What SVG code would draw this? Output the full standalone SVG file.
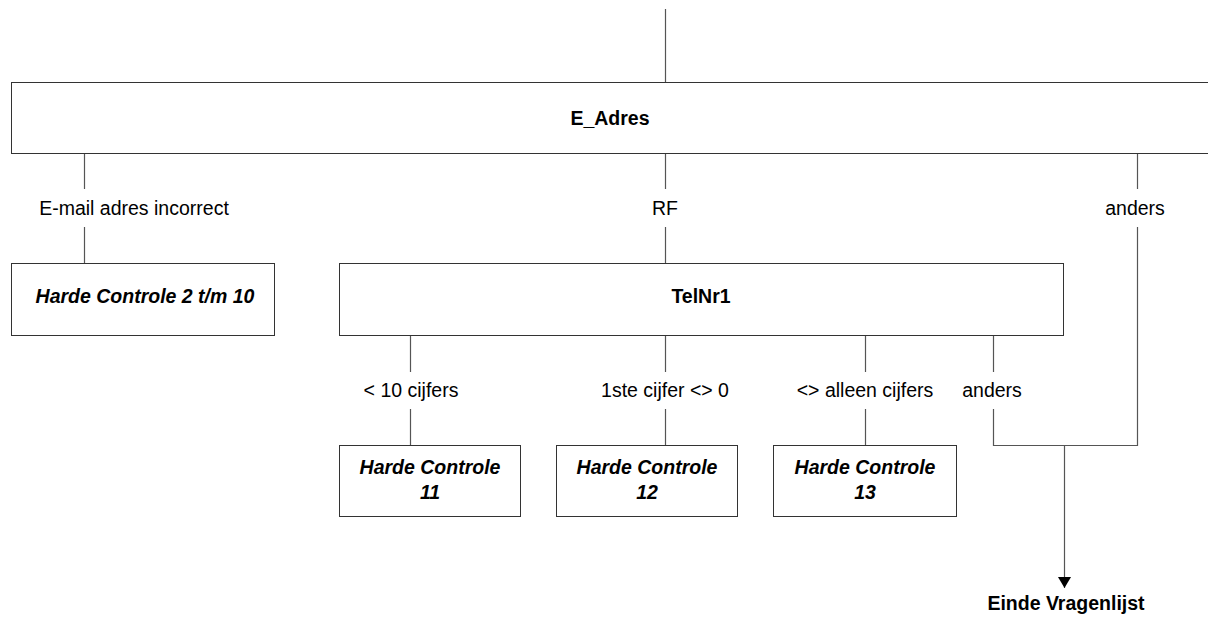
<svg xmlns="http://www.w3.org/2000/svg" width="1208" height="624" viewBox="0 0 1208 624">
<style>
.box{fill:#fff;stroke:#333;stroke-width:1}
.ln{fill:none;stroke:#555;stroke-width:1.2}
.t{font-family:"Liberation Sans",Arial,sans-serif;font-size:19.5px;fill:#000;text-anchor:middle}
.b{font-weight:bold}
.bi{font-weight:bold;font-style:italic}
</style>
<defs>
<marker id="arr" viewBox="0 0 11 13" refX="11" refY="6.5" markerWidth="11" markerHeight="13" markerUnits="userSpaceOnUse" orient="auto">
<path d="M0,0 L11,6.5 L0,13 Z" fill="#000"/>
</marker>
</defs>
<rect width="1208" height="624" fill="#fff"/>
<g id="connectors">
<line class="ln" x1="665.5" y1="9" x2="665.5" y2="82.5"/>
<line class="ln" x1="84.5" y1="153.5" x2="84.5" y2="189"/>
<line class="ln" x1="84.5" y1="227" x2="84.5" y2="263.5"/>
<line class="ln" x1="665.5" y1="153.5" x2="665.5" y2="189"/>
<line class="ln" x1="665.5" y1="227" x2="665.5" y2="263.5"/>
<line class="ln" x1="1137.5" y1="153.5" x2="1137.5" y2="189"/>
<polyline class="ln" points="1137.5,227 1137.5,445.5 993.5,445.5 993.5,409"/>
<line class="ln" x1="993.5" y1="335.5" x2="993.5" y2="372"/>
<line class="ln" x1="410.5" y1="335.5" x2="410.5" y2="372"/>
<line class="ln" x1="410.5" y1="409" x2="410.5" y2="445.5"/>
<line class="ln" x1="665.5" y1="335.5" x2="665.5" y2="372"/>
<line class="ln" x1="665.5" y1="409" x2="665.5" y2="445.5"/>
<line class="ln" x1="865.5" y1="335.5" x2="865.5" y2="372"/>
<line class="ln" x1="865.5" y1="409" x2="865.5" y2="445.5"/>
<line class="ln" x1="1064.5" y1="445.5" x2="1064.5" y2="588" marker-end="url(#arr)"/>
<text class="t" x="134" y="215">E-mail adres incorrect</text>
<text class="t" x="665" y="215">RF</text>
<text class="t" x="1135" y="215">anders</text>
<text class="t" x="411" y="397">&lt; 10 cijfers</text>
<text class="t" x="665" y="397">1ste cijfer &lt;&gt; 0</text>
<text class="t" x="865" y="397">&lt;&gt; alleen cijfers</text>
<text class="t" x="992" y="397">anders</text>
</g>
<g id="E_Adres">
<rect class="box" x="11.5" y="82.5" width="1198" height="71"/>
<text class="t b" x="610" y="125">E_Adres</text>
</g>
<g id="HC2_10">
<rect class="box" x="11.5" y="263.5" width="263" height="72"/>
<text class="t bi" x="145" y="303">Harde Controle 2 t/m 10</text>
</g>
<g id="TelNr1">
<rect class="box" x="339.5" y="263.5" width="724" height="72"/>
<text class="t b" x="701" y="303">TelNr1</text>
</g>
<g id="HC11">
<rect class="box" x="339.5" y="445.5" width="181" height="71"/>
<text class="t bi" x="430" y="474">Harde Controle</text>
<text class="t bi" x="430" y="499">11</text>
</g>
<g id="HC12">
<rect class="box" x="556.5" y="445.5" width="181" height="71"/>
<text class="t bi" x="647" y="474">Harde Controle</text>
<text class="t bi" x="647" y="499">12</text>
</g>
<g id="HC13">
<rect class="box" x="773.5" y="445.5" width="183" height="71"/>
<text class="t bi" x="865" y="474">Harde Controle</text>
<text class="t bi" x="865" y="499">13</text>
</g>
<g id="Einde">
<text class="t b" x="1066" y="610">Einde Vragenlijst</text>
</g>
</svg>
